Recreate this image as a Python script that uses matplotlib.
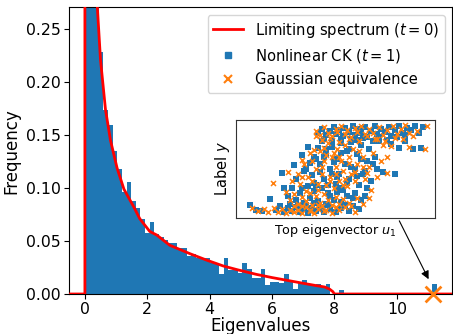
import numpy as np
import matplotlib
matplotlib.use("Agg")
import matplotlib.pyplot as plt
from matplotlib.lines import Line2D

# -------------------------
# data
# -------------------------
bin_width = 0.1484
hist_heights = [
    3.6, 0.55, 0.33, 0.228, 0.174, 0.159, 0.135, 0.118, 0.0965, 0.106,
    0.088, 0.081, 0.071, 0.058, 0.068, 0.057, 0.054, 0.051, 0.048, 0.048,
    0.043, 0.043, 0.036, 0.038, 0.034, 0.034, 0.034, 0.029, 0.029, 0.019,
    0.034, 0.023, 0.024, 0.020, 0.029, 0.024, 0.015, 0.015, 0.024, 0.0085,
    0.0116, 0.0116, 0.010, 0.019, 0.013, 0.0046, 0.010, 0.013, 0.0094, 0.0075,
    0.0094, 0.0075, 0.009, 0.0, 0.0, 0.004, 0.0, 0.0, 0.0, 0.0,
    0.0, 0.0, 0.0, 0.0, 0.0, 0.0, 0.0, 0.0, 0.0, 0.0,
    0.0, 0.0, 0.0, 0.0, 0.0, 0.009,
]

curve_x = [-0.51, 0.0, 0.0, 0.1, 0.2, 0.3, 0.4, 0.5, 0.66, 0.82, 1.03, 1.25,
           1.57, 1.76, 2.08, 2.3, 2.72, 3.37, 3.9, 4.44, 4.9, 5.5, 6.0, 6.5,
           7.0, 7.4, 7.69, 7.85, 7.95, 8.0, 11.8]
curve_y = [0.0, 0.0, 3.0, 1.0, 0.55, 0.36, 0.27, 0.221, 0.174, 0.145, 0.119,
           0.099, 0.082, 0.071, 0.059, 0.0557, 0.046, 0.038, 0.032, 0.0264,
           0.0228, 0.0185, 0.0155, 0.0128, 0.0101, 0.008, 0.0066, 0.0045,
           0.0022, 0.0, 0.0]

outlier_x = 11.17
outlier_y = 0.0

# inset scatter (normalised inset coords)
ck_u = [0.41, 0.43, 0.45, 0.47, 0.49, 0.50, 0.52, 0.54, 0.55, 0.57, 0.59, 0.60,
        0.62, 0.63, 0.65, 0.66, 0.68, 0.70, 0.71, 0.73, 0.75, 0.77, 0.78, 0.80,
        0.82, 0.84, 0.86, 0.88, 0.90, 0.94,
        0.44, 0.48, 0.53, 0.58, 0.61, 0.64, 0.69, 0.72, 0.76, 0.81, 0.85, 0.92,
        0.82, 0.89, 0.93, 0.80, 0.74, 0.78, 0.85,
        0.23, 0.29, 0.33, 0.39, 0.41, 0.30, 0.33, 0.35, 0.36, 0.38, 0.40, 0.42,
        0.43, 0.44, 0.45, 0.46, 0.47, 0.48, 0.50, 0.51, 0.52, 0.53, 0.54, 0.55,
        0.56, 0.57, 0.58, 0.60, 0.61, 0.62, 0.63, 0.64, 0.66, 0.67, 0.68, 0.70,
        0.71, 0.72, 0.66, 0.59,
        0.37, 0.39, 0.42, 0.44, 0.46, 0.49, 0.51, 0.53, 0.56, 0.58, 0.61, 0.63,
        0.65, 0.69, 0.48, 0.52, 0.57, 0.45, 0.40, 0.34,
        0.26, 0.28, 0.30, 0.32, 0.34, 0.36, 0.37, 0.39, 0.41, 0.43, 0.45, 0.47,
        0.49, 0.51, 0.53, 0.56, 0.60, 0.63, 0.65, 0.24,
        0.07, 0.10, 0.13, 0.17, 0.20, 0.22, 0.24, 0.26, 0.28, 0.30, 0.32, 0.34,
        0.36, 0.38, 0.40, 0.42, 0.44, 0.47, 0.50, 0.53, 0.57, 0.62,
        0.27, 0.31, 0.35, 0.39, 0.43, 0.46, 0.55, 0.59]
ck_y = [0.86, 0.90, 0.84, 0.88, 0.92, 0.85, 0.89, 0.83, 0.91, 0.87, 0.93, 0.84,
        0.90, 0.86, 0.92, 0.82, 0.88, 0.93, 0.85, 0.90, 0.87, 0.92, 0.83, 0.89,
        0.93, 0.86, 0.91, 0.89, 0.93, 0.92,
        0.80, 0.78, 0.80, 0.77, 0.79, 0.81, 0.78, 0.82, 0.79, 0.82, 0.84, 0.86,
        0.71, 0.70, 0.71, 0.45, 0.47, 0.75, 0.78,
        0.46, 0.54, 0.64, 0.62, 0.71, 0.40, 0.30, 0.50, 0.72, 0.44, 0.33, 0.55,
        0.78, 0.40, 0.65, 0.25, 0.50, 0.72, 0.35, 0.60, 0.45, 0.76, 0.28, 0.55,
        0.68, 0.40, 0.80, 0.50, 0.65, 0.33, 0.74, 0.45, 0.58, 0.70, 0.38, 0.62,
        0.50, 0.78, 0.30, 0.20,
        0.56, 0.36, 0.47, 0.62, 0.33, 0.57, 0.42, 0.66, 0.36, 0.52, 0.43, 0.60,
        0.48, 0.55, 0.45, 0.30, 0.70, 0.70, 0.60, 0.48,
        0.22, 0.30, 0.18, 0.25, 0.15, 0.32, 0.20, 0.27, 0.17, 0.30, 0.14, 0.22,
        0.18, 0.26, 0.16, 0.22, 0.25, 0.18, 0.22, 0.30,
        0.13, 0.08, 0.07, 0.19, 0.08, 0.12, 0.06, 0.10, 0.07, 0.11, 0.06, 0.09,
        0.05, 0.10, 0.07, 0.11, 0.06, 0.09, 0.06, 0.10, 0.07, 0.09,
        0.14, 0.12, 0.13, 0.15, 0.10, 0.13, 0.13, 0.12]

ge_u = [0.40, 0.42, 0.44, 0.46, 0.48, 0.50, 0.51, 0.53, 0.55, 0.56, 0.58, 0.60,
        0.61, 0.63, 0.65, 0.67, 0.69, 0.70, 0.72, 0.74, 0.76, 0.79, 0.81, 0.83,
        0.85, 0.87, 0.91, 0.96,
        0.43, 0.47, 0.52, 0.57, 0.62, 0.66, 0.71, 0.75, 0.80, 0.84, 0.89,
        0.87, 0.95, 0.76, 0.78, 0.76, 0.74,
        0.185, 0.26, 0.33, 0.40, 0.31, 0.32, 0.34, 0.35, 0.37, 0.38, 0.40, 0.41,
        0.42, 0.43, 0.44, 0.45, 0.46, 0.47, 0.48, 0.49, 0.50, 0.51, 0.52, 0.53,
        0.54, 0.55, 0.56, 0.57, 0.58, 0.59, 0.60, 0.61, 0.62, 0.64, 0.65, 0.67,
        0.69, 0.71, 0.73, 0.68,
        0.36, 0.38, 0.41, 0.43, 0.45, 0.47, 0.50, 0.52, 0.55, 0.57, 0.60, 0.62,
        0.64, 0.66, 0.49, 0.54, 0.44, 0.39, 0.33, 0.28,
        0.25, 0.27, 0.29, 0.31, 0.33, 0.35, 0.37, 0.38, 0.40, 0.42, 0.44, 0.46,
        0.48, 0.50, 0.52, 0.54, 0.57, 0.61, 0.64, 0.67,
        0.08, 0.11, 0.14, 0.16, 0.19, 0.21, 0.23, 0.25, 0.27, 0.29, 0.31, 0.33,
        0.35, 0.37, 0.39, 0.41, 0.43, 0.45, 0.48, 0.52, 0.55, 0.60,
        0.29, 0.33, 0.37, 0.41, 0.44, 0.50, 0.58]
ge_y = [0.88, 0.84, 0.92, 0.86, 0.83, 0.90, 0.87, 0.93, 0.85, 0.89, 0.82, 0.91,
        0.87, 0.93, 0.85, 0.90, 0.86, 0.80, 0.92, 0.84, 0.89, 0.93, 0.85, 0.90,
        0.94, 0.86, 0.88, 0.93,
        0.79, 0.81, 0.77, 0.80, 0.78, 0.83, 0.80, 0.78, 0.81, 0.80, 0.83,
        0.72, 0.70, 0.62, 0.73, 0.46, 0.74,
        0.36, 0.47, 0.59, 0.83, 0.45, 0.35, 0.55, 0.27, 0.66, 0.38, 0.50, 0.28,
        0.68, 0.45, 0.58, 0.34, 0.76, 0.42, 0.62, 0.30, 0.52, 0.70, 0.38, 0.58,
        0.48, 0.74, 0.32, 0.62, 0.45, 0.70, 0.38, 0.55, 0.78, 0.62, 0.40, 0.52,
        0.66, 0.42, 0.58, 0.28,
        0.42, 0.58, 0.35, 0.52, 0.64, 0.38, 0.45, 0.62, 0.40, 0.56, 0.47, 0.68,
        0.52, 0.46, 0.66, 0.33, 0.71, 0.69, 0.42, 0.38,
        0.26, 0.18, 0.24, 0.14, 0.21, 0.17, 0.25, 0.13, 0.22, 0.15, 0.24, 0.18,
        0.13, 0.21, 0.14, 0.19, 0.15, 0.20, 0.14, 0.20,
        0.10, 0.07, 0.09, 0.06, 0.10, 0.06, 0.09, 0.05, 0.08, 0.12, 0.08, 0.05,
        0.11, 0.07, 0.05, 0.09, 0.12, 0.08, 0.05, 0.08, 0.11, 0.06,
        0.06, 0.12, 0.08, 0.13, 0.07, 0.11, 0.12]

blue = "#1f77b4"
orange = "#ff7f0e"

# -------------------------
# Plot
# -------------------------
fig = plt.figure(figsize=(4.53, 3.34), dpi=100)
ax = fig.add_axes([69 / 453, 40 / 334, 383 / 453, 286.7 / 334])

edges = np.arange(len(hist_heights)) * bin_width
ax.bar(edges, hist_heights, width=bin_width, align="edge",
       color=blue, linewidth=0, zorder=1)
ax.plot(curve_x, curve_y, color="red", linewidth=2, zorder=3)
ax.scatter([outlier_x], [outlier_y], marker="x", s=130, color=orange,
           linewidths=2, zorder=5, clip_on=False)

ax.set_xlim(-0.51, 11.77)
ax.set_ylim(0, 0.2705)
ax.set_xticks([0, 2, 4, 6, 8, 10])
ax.set_yticks([0.0, 0.05, 0.10, 0.15, 0.20, 0.25])
ax.tick_params(labelsize=11.3, pad=2.5)
ax.set_xlabel("Eigenvalues", fontsize=12, labelpad=-0.5)
ax.set_ylabel("Frequency", fontsize=12)

handles = [
    Line2D([], [], color="red", linewidth=2),
    Line2D([], [], linestyle="none", marker="s", markersize=4.5,
           color=blue),
    Line2D([], [], linestyle="none", marker="x", markersize=5.5,
           markeredgewidth=1.5, color=orange),
]
labels = ["Limiting spectrum ($t = 0$)", "Nonlinear CK ($t = 1$)",
          "Gaussian equivalence"]
ax.legend(handles, labels, loc="upper right", fontsize=10.6)

# arrow from inset to the outlier
ax.annotate("", xy=(11.06, 0.0116), xytext=(10.04, 0.0714),
            arrowprops=dict(arrowstyle="-|>", color="k", lw=0.8,
                            mutation_scale=12))

# inset
axin = fig.add_axes([236 / 453, (334 - 218) / 334, 199 / 453, 98.5 / 334])
axin.scatter(ck_u, ck_y, marker="s", s=15, color=blue, linewidths=0)
axin.scatter(ge_u, ge_y, marker="x", s=13, color=orange, linewidths=1.1)
axin.set_xlim(0, 1)
axin.set_ylim(0, 1)
axin.set_xticks([])
axin.set_yticks([])
for sp in axin.spines.values():
    sp.set_color("#333333")
axin.set_xlabel("Top eigenvector $u_1$", fontsize=9.2, labelpad=3)
axin.set_ylabel("Label $y$", fontsize=10.5, labelpad=3)

fig.savefig("out.png", dpi=100)
